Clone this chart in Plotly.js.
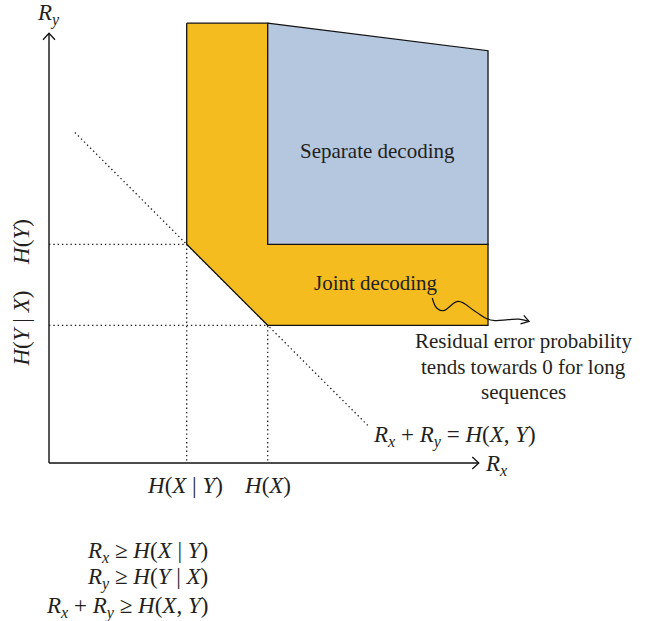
<!DOCTYPE html>
<html>
<head>
<meta charset="utf-8">
<script src="https://cdn.plot.ly/plotly-3.0.1.min.js"></script>
<style>html,body{margin:0;padding:0;background:#fff;}#chart{width:646px;height:621px;}</style>
</head>
<body>
<div id="chart"></div>
<script>
// Entropy values (arbitrary units)
const H_X_given_Y = 1.7;
const H_X = 2.7;
const H_Y_given_X = 1.7;
const H_Y = 2.7;
const H_XY = 4.4;

// Tick labels
const xTickVals = [H_X_given_Y, H_X];
const xTickText = ["<i>H</i>(<i>X</i> | <i>Y</i>)", "<i>H</i>(<i>X</i>)"];
const yTickVals = [H_Y_given_X, H_Y];
const yTickText = ["<i>H</i>(<i>Y</i> | <i>X</i>)", "<i>H</i>(<i>Y</i>)"];

// Region outlines
const jointX = [1.7, 1.7, 2.7, 5.42, 5.42, 2.7, 2.7, 1.7];
const jointY = [5.43, 2.7, 1.7, 1.7, 2.7, 2.7, 5.43, 5.43];
const sepX = [2.7, 5.42, 5.42, 2.7, 2.7];
const sepY = [5.43, 5.09, 2.7, 2.7, 5.43];

// Boundary Rx + Ry = H(X,Y)
const diagX = [0.32, 3.96];
const diagY = [4.08, 0.44];

// Wavy pointer
const waveX = [4.732, 4.786, 4.868, 5.053, 5.259, 5.404, 5.506, 5.670, 5.80, 5.926];
const waveY = [2.037, 1.914, 1.880, 1.995, 1.873, 1.781, 1.758, 1.769, 1.775, 1.749];

const axisMax = 5.30;

const FONT = "Liberation Serif, Times New Roman, serif";
const TXT = "#231f20";
const dotted = {color: "#222", width: 1.3, dash: "1.4px,2.9px"};

const traces = [
  {x: diagX, y: diagY, mode: "lines", line: dotted, hoverinfo: "skip"},
  {x: [0, H_X_given_Y, H_X_given_Y], y: [H_Y, H_Y, 0], mode: "lines", line: dotted, hoverinfo: "skip"},
  {x: [0, H_X, H_X], y: [H_Y_given_X, H_Y_given_X, 0], mode: "lines", line: dotted, hoverinfo: "skip"},
  {x: jointX, y: jointY, mode: "lines", fill: "toself", fillcolor: "#F5BC1F",
   line: {color: "#111", width: 1.3}, hoverinfo: "skip"},
  {x: sepX, y: sepY, mode: "lines", fill: "toself", fillcolor: "#B4C7DF",
   line: {color: "#111", width: 1.3}, hoverinfo: "skip"},
  {x: waveX, y: waveY, mode: "lines", line: {color: "#111", width: 1.2, shape: "spline", smoothing: 1.1}, hoverinfo: "skip"},
  // axes
  {x: [0, axisMax], y: [0, 0], mode: "lines", line: {color: "#111", width: 1.4}, hoverinfo: "skip"},
  {x: [0, 0], y: [0, axisMax], mode: "lines", line: {color: "#111", width: 1.4}, hoverinfo: "skip"}
];

// open chevron arrowheads (pixel offsets around the anchor point)
const chevron = (xa, ya, path) => ({type: "path", xref: "x", yref: "y", xsizemode: "pixel", ysizemode: "pixel",
  xanchor: xa, yanchor: ya, path: path, line: {color: "#111", width: 1.3}, fillcolor: "rgba(0,0,0,0)"});
const shapes = [
  chevron(axisMax, 0, "M-6,-6 L0.5,0 L-6,6"),
  chevron(0, axisMax, "M-6,-6 L0,0.5 L6,-6"),
  chevron(waveX[waveX.length - 1], waveY[waveY.length - 1], "M-8.5,-2.5 L0,0 L-5.2,6")
];

function txt(x, y, text, size, opts) {
  return Object.assign({x: x, y: y, xref: "x", yref: "y", text: text, showarrow: false,
    font: {family: FONT, size: size, color: TXT}, xanchor: "center", yanchor: "middle"}, opts || {});
}

const annotations = [
  txt(5.53, -0.025, "<i>R</i><sub><i>x</i></sub>", 23),
  txt(-0.01, 5.535, "<i>R</i><sub><i>y</i></sub>", 23),
  txt(xTickVals[0] - 0.02, -0.272, xTickText[0], 23),
  txt(xTickVals[1], -0.272, xTickText[1], 23),
  txt(-0.333, yTickVals[0] - 0.04, yTickText[0], 23, {textangle: -90}),
  txt(-0.333, yTickVals[1] + 0.03, yTickText[1], 23, {textangle: -90}),
  txt(4.06, 3.85, "Separate decoding", 21),
  txt(4.04, 2.22, "Joint decoding", 21),
  txt(5.86, 1.51, "Residual error probability", 21),
  txt(5.86, 1.19, "tends towards 0 for long", 21),
  txt(5.86, 0.88, "sequences", 21),
  txt(5.0, 0.333, "<i>R</i><sub><i>x</i></sub> + <i>R</i><sub><i>y</i></sub> = <i>H</i>(<i>X</i>, <i>Y</i>)", 23),
  txt(1.99, -1.10, "<i>R</i><sub><i>x</i></sub> ≥ <i>H</i>(<i>X</i> | <i>Y</i>)", 23, {xanchor: "right"}),
  txt(1.99, -1.43, "<i>R</i><sub><i>y</i></sub> ≥ <i>H</i>(<i>Y</i> | <i>X</i>)", 23, {xanchor: "right"}),
  txt(1.99, -1.78, "<i>R</i><sub><i>x</i></sub> + <i>R</i><sub><i>y</i></sub> ≥ <i>H</i>(<i>X</i>, <i>Y</i>)", 23, {xanchor: "right"})
];

const layout = {
  width: 646, height: 621, autosize: false,
  margin: {l: 0, r: 0, t: 0, b: 0},
  paper_bgcolor: "#fff", plot_bgcolor: "#fff",
  showlegend: false,
  xaxis: {range: [-49/81, 597/81], visible: false, fixedrange: true},
  yaxis: {range: [-158/81, 463/81], visible: false, fixedrange: true},
  shapes: shapes,
  annotations: annotations,
  font: {family: FONT, color: TXT}
};

Plotly.newPlot("chart", traces, layout, {displayModeBar: false, staticPlot: true});
</script>
</body>
</html>
